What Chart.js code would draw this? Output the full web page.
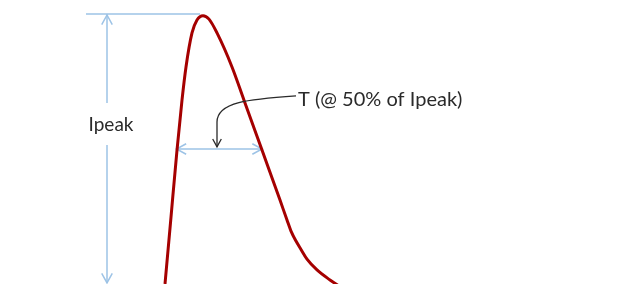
<!DOCTYPE html>
<html>
<head>
<meta charset="utf-8">
<script src="https://cdn.jsdelivr.net/npm/chart.js@4/dist/chart.umd.min.js"></script>
<style>
  html, body { margin: 0; padding: 0; background: #fff; }
  #wrap { width: 621px; height: 284px; }
</style>
</head>
<body>
<div id="wrap"><canvas id="pulse"></canvas></div>
<script>
// pulse shape, time in arbitrary units, current as fraction of Ipeak
const timeUs = [0.1, 0.7, 1.3, 1.8, 2.2, 2.8, 3.3, 3.9, 4.5, 5.3, 6.8, 8.0, 9.8, 11.6, 12.3, 12.7, 13.2, 13.7, 14.3, 15.3, 16.6, 18.1];
const currentPu = [0, 0.248, 0.496, 0.681, 0.804, 0.930, 0.978, 0.994, 0.981, 0.930, 0.804, 0.681, 0.496, 0.311, 0.237, 0.196, 0.159, 0.128, 0.092, 0.052, 0.015, -0.022];

// annotation anchors (data units)
const peakLevel = 1.0;
const halfLevel = 0.5;
const peakLineT = [-7.8, 3.6];
const peakArrowT = -5.7;
const halfWidthT = [1.25, 9.8];
const peakLabel = 'Ipeak';
const widthLabel = 'T (@ 50% of Ipeak)';

const blue = '#9dc3e6';
const red = '#a50000';
const ink = '#2a2a2a';

function arrowHead(ctx, x, y, angle, len, spread) {
    ctx.beginPath();
    ctx.moveTo(x + len * Math.cos(angle + spread), y + len * Math.sin(angle + spread));
    ctx.lineTo(x, y);
    ctx.lineTo(x + len * Math.cos(angle - spread), y + len * Math.sin(angle - spread));
    ctx.stroke();
}

const annotations = {
    id: 'annotations',
    beforeDatasetsDraw(chart) {
        const ctx = chart.ctx;
        const xs = chart.scales.x, ys = chart.scales.y;
        ctx.save();
        ctx.strokeStyle = blue;
        ctx.lineWidth = 1.5;

        // top line at Ipeak
        const yPeak = ys.getPixelForValue(peakLevel);
        ctx.beginPath();
        ctx.moveTo(xs.getPixelForValue(peakLineT[0]), yPeak);
        ctx.lineTo(xs.getPixelForValue(peakLineT[1]), yPeak);
        ctx.stroke();

        // vertical double arrow with a gap for the label
        const xa = xs.getPixelForValue(peakArrowT);
        const yBot = ys.getPixelForValue(0.004);
        ctx.beginPath();
        ctx.moveTo(xa, yPeak);
        ctx.lineTo(xa, ys.getPixelForValue(0.67));
        ctx.moveTo(xa, ys.getPixelForValue(0.515));
        ctx.lineTo(xa, yBot);
        ctx.stroke();
        arrowHead(ctx, xa, yPeak + 1, Math.PI / 2, 11, 0.5);
        arrowHead(ctx, xa, yBot, -Math.PI / 2, 11, 0.5);

        // width at 50%
        const yHalf = ys.getPixelForValue(halfLevel);
        const x1 = xs.getPixelForValue(halfWidthT[0]);
        const x2 = xs.getPixelForValue(halfWidthT[1]);
        ctx.beginPath();
        ctx.moveTo(x1, yHalf);
        ctx.lineTo(x2, yHalf);
        ctx.stroke();
        arrowHead(ctx, x1, yHalf, 0, 11, 0.5);
        arrowHead(ctx, x2, yHalf, Math.PI, 11, 0.5);
        ctx.restore();
    },
    afterDatasetsDraw(chart) {
        const ctx = chart.ctx;
        const xs = chart.scales.x, ys = chart.scales.y;
        ctx.save();
        ctx.fillStyle = ink;
        ctx.textBaseline = 'middle';

        ctx.font = '19px Lato';
        ctx.textAlign = 'center';
        ctx.fillText(peakLabel, xs.getPixelForValue(-5.3), ys.getPixelForValue(0.59));

        ctx.font = '20px Lato';
        ctx.textAlign = 'left';
        const tx = xs.getPixelForValue(13.4), ty = ys.getPixelForValue(0.685);
        ctx.fillText(widthLabel, tx, ty);

        // curved pointer to the 50% width
        const xd = xs.getPixelForValue(5.3);
        const tip = ys.getPixelForValue(0.508);
        ctx.strokeStyle = ink;
        ctx.lineWidth = 1.3;
        ctx.beginPath();
        ctx.moveTo(tx - 2, ys.getPixelForValue(0.697));
        ctx.bezierCurveTo(xs.getPixelForValue(8.5), ys.getPixelForValue(0.685),
                          xd, ys.getPixelForValue(0.675), xd, ys.getPixelForValue(0.6));
        ctx.lineTo(xd, tip);
        ctx.stroke();
        arrowHead(ctx, xd, tip, -Math.PI / 2, 9, 0.5);
        ctx.restore();
    }
};

new Chart(document.getElementById('pulse'), {
    type: 'line',
    data: {
        datasets: [{
            data: timeUs.map((t, i) => ({ x: t, y: currentPu[i] })),
            borderColor: red,
            borderWidth: 3,
            pointRadius: 0,
            cubicInterpolationMode: 'monotone',
            fill: false
        }]
    },
    options: {
        responsive: true,
        maintainAspectRatio: false,
        animation: false,
        layout: { padding: 0 },
        plugins: { legend: { display: false }, tooltip: { enabled: false } },
        scales: {
            x: { type: 'linear', display: false, min: -16.4, max: 45.7 },
            y: { display: false, min: 0, max: 1.0519 }
        }
    },
    plugins: [annotations]
});
</script>
</body>
</html>
